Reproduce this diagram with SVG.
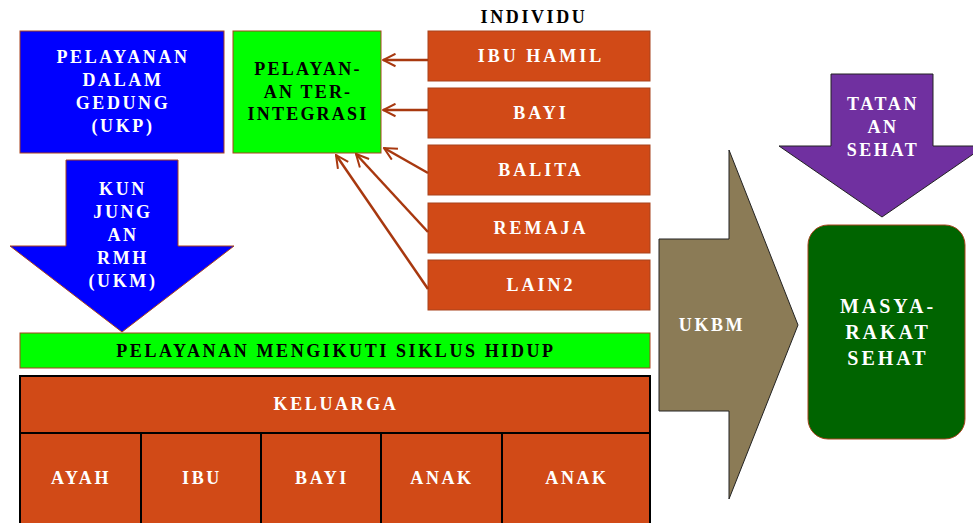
<svg xmlns="http://www.w3.org/2000/svg" width="973" height="523" viewBox="0 0 973 523">
<defs>
<style>
text{font-family:"Liberation Serif","Times New Roman",serif;font-weight:bold;text-anchor:middle;letter-spacing:2.6px;font-size:18px}
.w{fill:#ffffff}
.k{fill:#000000}
.or{fill:#D14A17;stroke:#A8431C;stroke-width:1}
.cell{fill:#D14A17;stroke:#000;stroke-width:2}
.con{stroke:#A8380F;stroke-width:2.5;fill:none;marker-end:url(#ah)}
</style>
<marker id="ah" viewBox="0 0 12 12" refX="11" refY="6" markerWidth="6" markerHeight="6" orient="auto" markerUnits="strokeWidth">
<path d="M1,1 L11,6 L1,11" fill="none" stroke="#A8380F" stroke-width="1.6"/>
</marker>
</defs>
<rect width="973" height="523" fill="#fff"/>

<g id="ukp">
<rect x="20" y="31" width="204" height="122" fill="#0000FF" stroke="#A8431C" stroke-width="1"/>
<text class="w" x="123" y="63">PELAYANAN</text>
<text class="w" x="123" y="86">DALAM</text>
<text class="w" x="123" y="109">GEDUNG</text>
<text class="w" x="123" y="132">(UKP)</text>
</g>

<g id="terintegrasi">
<rect x="233" y="31" width="148" height="122" fill="#00FF00" stroke="#A8431C" stroke-width="1"/>
<text class="k" x="308" y="75" style="letter-spacing:2.2px">PELAYAN-</text>
<text class="k" x="308" y="98" style="letter-spacing:2.2px">AN TER-</text>
<text class="k" x="308" y="120" style="letter-spacing:2.2px">INTEGRASI</text>
</g>

<g id="individu-label">
<text class="k" x="534" y="23">INDIVIDU</text>
</g>

<g id="ibu-hamil">
<rect class="or" x="428" y="31" width="222" height="50"/>
<text class="w" x="541" y="62" style="letter-spacing:3px">IBU HAMIL</text>
</g>
<g id="bayi">
<rect class="or" x="428" y="88" width="222" height="50"/>
<text class="w" x="541" y="119" style="letter-spacing:3px">BAYI</text>
</g>
<g id="balita">
<rect class="or" x="428" y="145" width="222" height="50"/>
<text class="w" x="541" y="176" style="letter-spacing:3px">BALITA</text>
</g>
<g id="remaja">
<rect class="or" x="428" y="203" width="222" height="50"/>
<text class="w" x="541" y="234" style="letter-spacing:3px">REMAJA</text>
</g>
<g id="lain2">
<rect class="or" x="428" y="260" width="222" height="50"/>
<text class="w" x="541" y="291" style="letter-spacing:3px">LAIN2</text>
</g>

<g id="connectors">
<line class="con" x1="428" y1="60" x2="383" y2="60"/>
<line class="con" x1="428" y1="110" x2="383" y2="110"/>
<line class="con" x1="428" y1="173" x2="384" y2="148"/>
<line class="con" x1="428" y1="232" x2="356" y2="154"/>
<line class="con" x1="428" y1="289" x2="336" y2="155"/>
</g>

<g id="ukm">
<path d="M66,160 L178,160 L178,246 L234,246 L122,332 L10,246 L66,246 Z" fill="#0000FF" stroke="#A8431C" stroke-width="1"/>
<text class="w" x="123" y="195">KUN</text>
<text class="w" x="123" y="218">JUNG</text>
<text class="w" x="123" y="241">AN</text>
<text class="w" x="123" y="264">RMH</text>
<text class="w" x="123" y="287">(UKM)</text>
</g>

<g id="siklus">
<rect x="20" y="333" width="630" height="35" fill="#00FF00" stroke="#A8431C" stroke-width="1"/>
<text class="k" x="336" y="357">PELAYANAN MENGIKUTI SIKLUS HIDUP</text>
</g>

<g id="keluarga">
<rect class="cell" x="20" y="376" width="630" height="57"/>
<text class="w" x="336" y="410">KELUARGA</text>
</g>
<g id="ayah">
<rect class="cell" x="20" y="433" width="121" height="95"/>
<text class="w" x="81" y="484">AYAH</text>
</g>
<g id="ibu">
<rect class="cell" x="141" y="433" width="120" height="95"/>
<text class="w" x="202" y="484">IBU</text>
</g>
<g id="bayi-k">
<rect class="cell" x="261" y="433" width="120" height="95"/>
<text class="w" x="322" y="484">BAYI</text>
</g>
<g id="anak1">
<rect class="cell" x="381" y="433" width="121" height="95"/>
<text class="w" x="442" y="484">ANAK</text>
</g>
<g id="anak2">
<rect class="cell" x="502" y="433" width="148" height="95"/>
<text class="w" x="577" y="484">ANAK</text>
</g>

<g id="ukbm">
<path d="M659,239 L729,239 L729,150 L798,325 L729,499 L729,411 L659,411 Z" fill="#8B7B56" stroke="#222" stroke-width="1"/>
<text class="w" x="712" y="331">UKBM</text>
</g>

<g id="tatanan">
<path d="M831,74 L933,74 L933,146 L985,146 L882,217 L779,146 L831,146 Z" fill="#7030A0" stroke="#222" stroke-width="1"/>
<text class="w" x="883" y="110">TATAN</text>
<text class="w" x="883" y="133">AN</text>
<text class="w" x="883" y="156">SEHAT</text>
</g>

<g id="masyarakat">
<rect x="808" y="225" width="157" height="214" rx="20" fill="#006400" stroke="#A8431C" stroke-width="1"/>
<text class="w" x="888" y="313" style="font-size:20px;letter-spacing:3px">MASYA-</text>
<text class="w" x="888" y="339" style="font-size:20px;letter-spacing:3px">RAKAT</text>
<text class="w" x="888" y="365" style="font-size:20px;letter-spacing:3px">SEHAT</text>
</g>
</svg>
